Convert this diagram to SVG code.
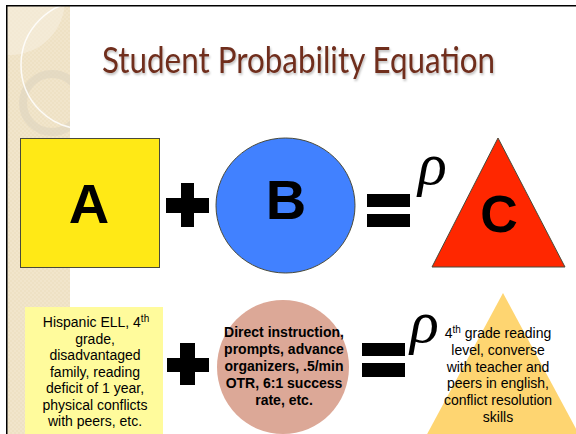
<svg xmlns="http://www.w3.org/2000/svg" width="576" height="434" viewBox="0 0 576 434">
  <defs>
    <filter id="shadow" x="-5%" y="-20%" width="110%" height="150%">
      <feDropShadow dx="1" dy="2" stdDeviation="1" flood-color="#000" flood-opacity="0.25"/>
    </filter>
    <clipPath id="sideClip">
      <rect x="7" y="6" width="63" height="428"/>
    </clipPath>
    <pattern id="tex" width="4" height="4" patternUnits="userSpaceOnUse">
      <rect width="4" height="4" fill="#EEE1C4"/>
      <rect width="2" height="2" fill="#F1E5CB"/>
      <rect x="2" y="2" width="2" height="2" fill="#F1E5CB"/>
    </pattern>
  </defs>
  <style>
    .title { font-family: "Gill Sans", "Lato", "Open Sans", sans-serif; font-size: 36px; fill: #6F2E1E; }
    .big { font-family: "Liberation Sans", Arial, sans-serif; font-weight: bold; font-size: 56px; fill: #000; text-anchor: middle; }
    .rho { font-family: "Liberation Serif", "DejaVu Serif", serif; font-style: italic; font-size: 60px; fill: #000; }
    .body { font-family: "Liberation Sans", Arial, sans-serif; font-size: 14px; fill: #000; text-anchor: middle; }
    .bold { font-weight: bold; }
    .op { fill: #000; }
    .edge { stroke: #4A4A3A; stroke-width: 1; }
  </style>

  <!-- background -->
  <rect x="0" y="0" width="576" height="434" fill="#FFFFFF"/>

  <!-- decorative sidebar -->
  <g id="sidebar">
    <rect x="7" y="6" width="63" height="428" fill="url(#tex)"/>
    <g clip-path="url(#sideClip)">
      <circle cx="10" cy="0" r="55" fill="#F6EEDF" opacity="0.6"/>
      <circle cx="52" cy="103" r="29" fill="none" stroke="#DDD4C0" stroke-width="8" opacity="0.6"/>
      <circle cx="85" cy="65" r="64" fill="none" stroke="#FFFFFF" stroke-width="1.5" opacity="0.85"/>
    </g>
  </g>

  <!-- frame -->
  <path d="M6.75 434 V5.75 H576" fill="none" stroke="#000" stroke-width="1.5"/>

  <!-- title -->
  <text class="title" x="102" y="73" textLength="393" lengthAdjust="spacingAndGlyphs" filter="url(#shadow)">Student Probability Equation</text>

  <!-- top row -->
  <g id="nodeA">
    <rect class="edge" x="20.5" y="138.5" width="139" height="129" fill="#FFE916"/>
    <text class="big" x="89" y="223">A</text>
  </g>
  <g id="nodeB">
    <ellipse class="edge" cx="285.5" cy="205.5" rx="69.5" ry="67.5" fill="#4181FF"/>
    <text class="big" x="286" y="219">B</text>
  </g>
  <g id="nodeC">
    <polygon class="edge" points="498,138 432,267 565,267" fill="#FF2700"/>
    <text class="big" x="499" y="232" style="font-size:52px">C</text>
  </g>

  <!-- bottom row -->
  <g id="nodeStudent">
    <rect x="25" y="307" width="138" height="140" fill="#FFFB9C"/>
    <text class="body" x="96" y="327">Hispanic ELL, 4<tspan font-size="10" dy="-5">th</tspan></text>
    <text class="body" x="95" y="343.5">grade,</text>
    <text class="body" x="95" y="360">disadvantaged</text>
    <text class="body" x="95" y="376.5">family, reading</text>
    <text class="body" x="95" y="393">deficit of 1 year,</text>
    <text class="body" x="95" y="409.5">physical conflicts</text>
    <text class="body" x="95" y="426">with peers, etc.</text>
  </g>
  <g id="nodeInstruction">
    <ellipse cx="283" cy="367" rx="66" ry="67" fill="#DCA897"/>
    <text class="body bold" x="284" y="337">Direct instruction,</text>
    <text class="body bold" x="284" y="354">prompts, advance</text>
    <text class="body bold" x="284" y="371">organizers, .5/min</text>
    <text class="body bold" x="284" y="388">OTR, 6:1 success</text>
    <text class="body bold" x="284" y="405">rate, etc.</text>
  </g>
  <g id="nodeOutcome">
    <polygon points="503,293 418,451 588,451" fill="#FED571"/>
    <text class="body" x="498" y="338">4<tspan font-size="10" dy="-5">th</tspan><tspan dy="5"> grade reading</tspan></text>
    <text class="body" x="498" y="355">level, converse</text>
    <text class="body" x="498" y="371.5">with teacher and</text>
    <text class="body" x="498" y="388">peers in english,</text>
    <text class="body" x="498" y="405">conflict resolution</text>
    <text class="body" x="498" y="422">skills</text>
  </g>

  <!-- operators -->
  <g id="operators">
    <g id="plus1" class="op">
      <rect x="166" y="198" width="43" height="15"/>
      <rect x="181" y="183" width="13" height="44"/>
    </g>
    <g id="equals1" class="op">
      <rect x="367" y="194" width="43" height="13"/>
      <rect x="367" y="214" width="43" height="13"/>
    </g>
    <text id="rho1" class="rho" x="418" y="184">ρ</text>
    <g id="plus2" class="op">
      <rect x="167" y="358" width="42" height="14"/>
      <rect x="180" y="343" width="15" height="42"/>
    </g>
    <g id="equals2" class="op">
      <rect x="362" y="343" width="43" height="13"/>
      <rect x="362" y="363" width="43" height="14"/>
    </g>
    <text id="rho2" class="rho" x="410" y="342">ρ</text>
  </g>
</svg>
